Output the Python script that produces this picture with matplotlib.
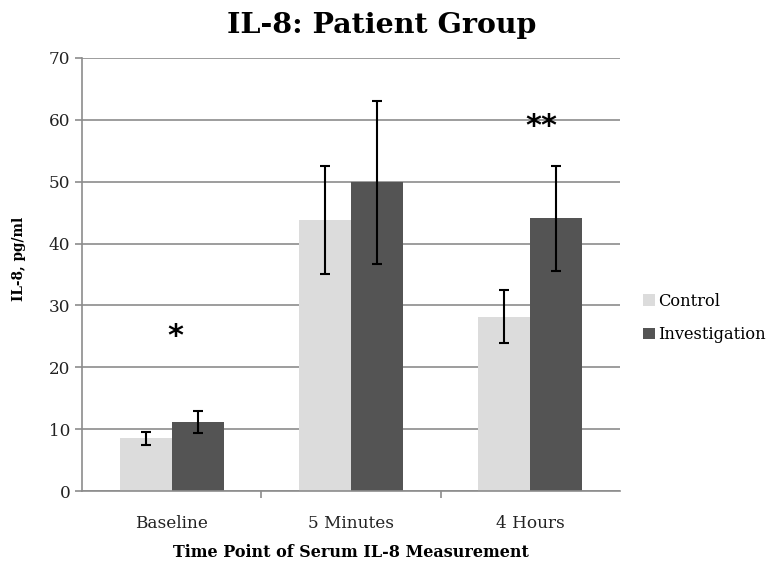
import numpy as np
import matplotlib
matplotlib.use("Agg")
import matplotlib.pyplot as plt

# Dati
categorie = ["Baseline", "5 Minutes", "4 Hours"]
control = [8.5, 43.8, 28.2]
control_err = [1.0, 8.7, 4.3]
investigation = [11.1, 49.9, 44.1]
investigation_err = [1.8, 13.2, 8.5]
asterischi = ["*", "", "**"]
asterischi_y = [25.0, 0, 59.0]

plt.rcParams['font.family'] = ['DejaVu Serif']

fig = plt.figure(figsize=(7.71, 5.64), dpi=100)
ax = fig.add_axes([82 / 771, 1 - 491 / 564, (620 - 82) / 771, (491 - 58) / 564])

x = np.arange(len(categorie))
w = 0.29
err_kw = dict(ecolor='black', elinewidth=1.5, capsize=3.8, capthick=1.5)
ax.bar(x - w / 2, control, w, yerr=control_err, color='#dcdcdc', label='Control',
       error_kw=err_kw, zorder=2)
ax.bar(x + w / 2, investigation, w, yerr=investigation_err, color='#545454',
       label='Investigation', error_kw=err_kw, zorder=2)

# Asterischi di significatività
for i, s in enumerate(asterischi):
    if s:
        ax.text(i + 0.02 + (0.04 if len(s) > 1 else 0), asterischi_y[i], s,
                ha='center', va='center', fontsize=22, fontweight='bold',
                family='DejaVu Sans')

ax.set_xlim(-0.5, 2.5)
ax.set_ylim(0, 70)
ax.set_yticks(range(0, 71, 10))
ax.yaxis.grid(True, color='#8c8c8c', linewidth=1.2, zorder=0)
ax.set_axisbelow(True)

ax.set_xticks(x)
ax.set_xticklabels(categorie, fontsize=12.2, color='#222222')
ax.set_xticks([0.5, 1.5], minor=True)
ax.tick_params(axis='x', which='major', length=0, pad=17)
ax.tick_params(axis='x', which='minor', length=5, color='#8c8c8c', width=1.2)
ax.tick_params(axis='y', length=5, color='#8c8c8c', width=1.2, labelsize=12.2,
               labelcolor='#222222')

for side in ['top', 'right']:
    ax.spines[side].set_visible(False)
for side in ['left', 'bottom']:
    ax.spines[side].set_color('#8c8c8c')
    ax.spines[side].set_linewidth(1.2)

ax.set_title("IL-8: Patient Group", fontsize=20.5, fontweight='bold', pad=18,
             x=0.557)
ax.set_xlabel("Time Point of Serum IL-8 Measurement", fontsize=11.5,
              fontweight='bold', labelpad=9)
ax.set_ylabel("IL-8, pg/ml", fontsize=9.8, fontweight='bold')
ax.yaxis.set_label_coords(-0.104, 0.536)

fig.legend(loc='center left', bbox_to_anchor=(628 / 771, 1 - 318 / 564),
           frameon=False, fontsize=11.7, handlelength=0.75, handleheight=0.75,
           handletextpad=0.2, labelspacing=1.0)

fig.savefig("out.png", dpi=100)
